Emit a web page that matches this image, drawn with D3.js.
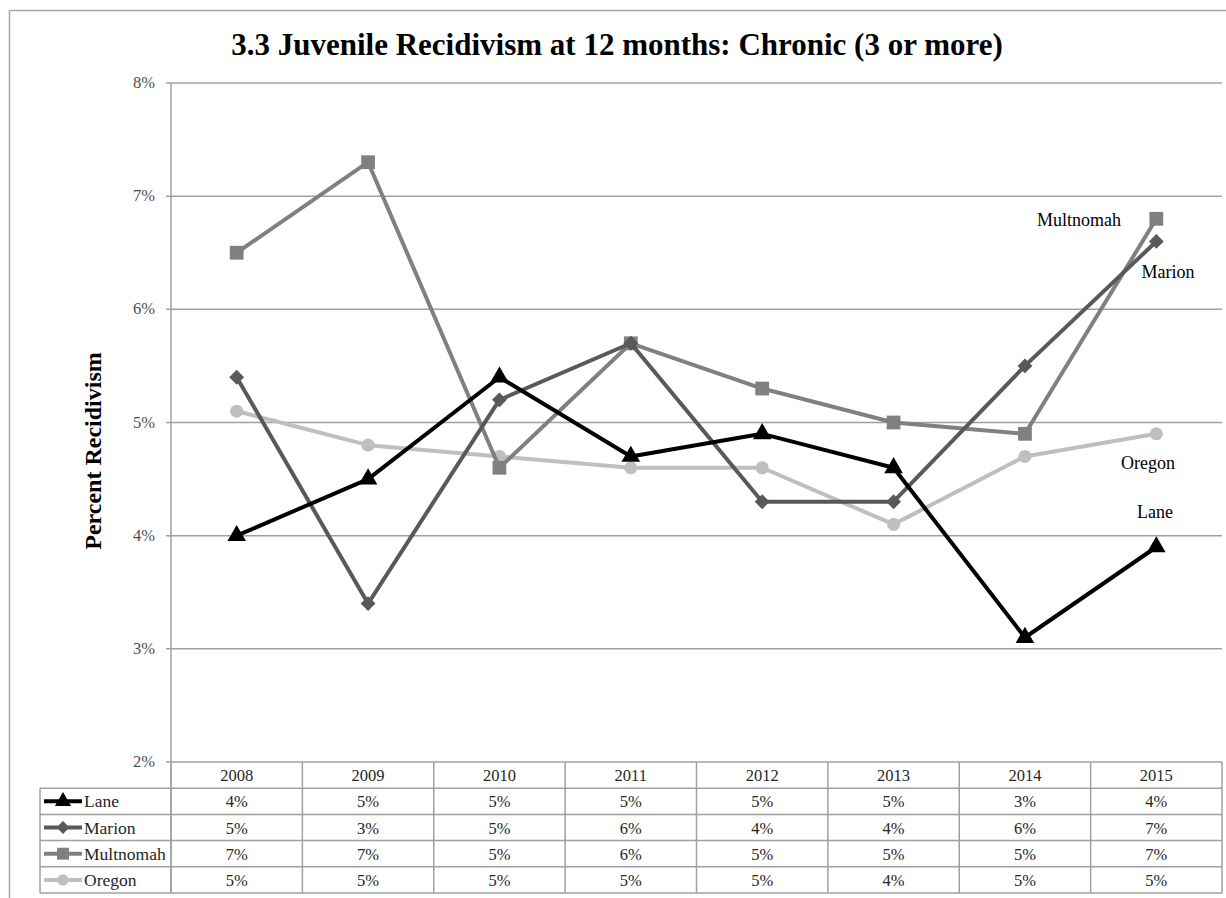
<!DOCTYPE html>
<html><head><meta charset="utf-8">
<script src="https://cdn.jsdelivr.net/npm/d3@7"></script>
<style>body{margin:0;background:#fff;} svg{display:block;font-family:"Liberation Serif","DejaVu Serif",serif;}</style>
</head><body>
<svg id="c" width="1226" height="898"></svg>
<script>
const years = ["2008","2009","2010","2011","2012","2013","2014","2015"];
const seriesNames = ["Lane","Marion","Multnomah","Oregon"];
const lane      = [4.0, 4.5, 5.4, 4.7, 4.9, 4.6, 3.1, 3.9];
const marion    = [5.4, 3.4, 5.2, 5.7, 4.3, 4.3, 5.5, 6.6];
const multnomah = [6.5, 7.3, 4.6, 5.7, 5.3, 5.0, 4.9, 6.8];
const oregon    = [5.1, 4.8, 4.7, 4.6, 4.6, 4.1, 4.7, 4.9];
const yTicks = [2,3,4,5,6,7,8];
const title = "3.3 Juvenile Recidivism at 12 months: Chronic (3 or more)";
const yTitle = "Percent Recidivism";

const colors = {Lane:"#000000", Marion:"#595959", Multnomah:"#808080", Oregon:"#bfbfbf"};
const symbols = {Lane:d3.symbolTriangle, Marion:d3.symbolSquare, Multnomah:d3.symbolSquare, Oregon:d3.symbolCircle};
const symRot = {Lane:0, Marion:45, Multnomah:0, Oregon:0};
const symSize = {Lane:150, Marion:110, Multnomah:190, Oregon:135};
const values = {Lane:lane, Marion:marion, Multnomah:multnomah, Oregon:oregon};
const labelPos = {Lane:[1155,518], Marion:[1168,278], Multnomah:[1079,226], Oregon:[1148,469]};

const svg = d3.select("#c");
const L = 171, R = 1222, T = 83, B = 762;
const grid = "#a0a0a0";

svg.append("rect").attr("x",9.5).attr("y",10.5).attr("width",1240).attr("height",900)
  .attr("fill","none").attr("stroke","#a6a6a6").attr("stroke-width",1.5);

const x = d3.scaleBand().domain(years).range([L,R]);
const y = d3.scaleLinear().domain([2,8]).range([B,T]);

svg.append("g").selectAll("line").data(yTicks).join("line")
  .attr("x1",L-5).attr("x2",R).attr("y1",d=>y(d)).attr("y2",d=>y(d))
  .attr("stroke",grid).attr("stroke-width",1.5);
svg.append("line").attr("x1",L).attr("x2",L).attr("y1",T).attr("y2",B+131)
  .attr("stroke",grid).attr("stroke-width",1.5);
svg.append("g").selectAll("text").data(yTicks).join("text")
  .attr("x",L-16).attr("y",d=>y(d)+5).attr("text-anchor","end")
  .attr("font-size",16.5).attr("fill","#4d4d4d").text(d=>d+"%");

svg.append("text").attr("x",617).attr("y",55).attr("text-anchor","middle")
  .attr("font-size",31).attr("font-weight","bold").text(title);
svg.append("text").attr("transform","translate(101,451) rotate(-90)").attr("text-anchor","middle")
  .attr("font-size",24).attr("font-weight","bold").text(yTitle);

const cx = (i)=>x(years[i])+x.bandwidth()/2;
const line = d3.line().x((d,i)=>cx(i)).y(d=>y(d));
seriesNames.slice().reverse().forEach(name=>{
  const g = svg.append("g");
  g.append("path").datum(values[name]).attr("d",line).attr("fill","none")
    .attr("stroke",colors[name]).attr("stroke-width",4).attr("stroke-linejoin","round");
  g.selectAll("path.m").data(values[name]).join("path").attr("class","m")
    .attr("transform",(d,i)=>`translate(${cx(i)},${y(d)}) rotate(${symRot[name]})`)
    .attr("d",d3.symbol(symbols[name],symSize[name])).attr("fill",colors[name]);
});
seriesNames.forEach(name=>{
  svg.append("text").attr("x",labelPos[name][0]).attr("y",labelPos[name][1])
    .attr("text-anchor","middle").attr("font-size",18).attr("fill","#000").text(name);
});

const tL = 40, rowH = 26.2, hdrTop = B;
const tbl = svg.append("g");
tbl.selectAll("text.h").data(years).join("text").attr("class","h")
  .attr("x",d=>x(d)+x.bandwidth()/2).attr("y",hdrTop+19).attr("text-anchor","middle")
  .attr("font-size",16.5).attr("fill","#262626").text(d=>d);
const rowsY = d3.range(1,6).map(i=>hdrTop+i*rowH);
tbl.selectAll("line.r").data(rowsY).join("line").attr("class","r")
  .attr("x1",tL).attr("x2",R).attr("y1",d=>d).attr("y2",d=>d)
  .attr("stroke",grid).attr("stroke-width",1.5);
tbl.selectAll("line.v").data(years.map(d=>x(d)).concat([R])).join("line").attr("class","v")
  .attr("x1",d=>d).attr("x2",d=>d).attr("y1",hdrTop).attr("y2",hdrTop+5*rowH)
  .attr("stroke",grid).attr("stroke-width",1.5);
tbl.append("line").attr("x1",tL).attr("x2",tL).attr("y1",hdrTop+rowH).attr("y2",hdrTop+5*rowH)
  .attr("stroke",grid).attr("stroke-width",1.5);
seriesNames.forEach((name,ri)=>{
  const cy = hdrTop + (ri+1)*rowH + rowH/2;
  tbl.append("line").attr("x1",tL+4).attr("x2",tL+42).attr("y1",cy).attr("y2",cy)
    .attr("stroke",colors[name]).attr("stroke-width",4);
  tbl.append("path").attr("transform",`translate(${tL+23},${cy}) rotate(${symRot[name]})`)
    .attr("d",d3.symbol(symbols[name],symSize[name]*0.75)).attr("fill",colors[name]);
  tbl.append("text").attr("x",tL+44).attr("y",cy+6).attr("font-size",17.5).attr("fill","#262626").text(name);
  tbl.selectAll(null).data(values[name]).join("text")
    .attr("x",(d,i)=>cx(i)).attr("y",cy+6).attr("text-anchor","middle")
    .attr("font-size",16.5).attr("fill","#262626").text(d=>Math.round(d)+"%");
});
</script>
</body></html>
